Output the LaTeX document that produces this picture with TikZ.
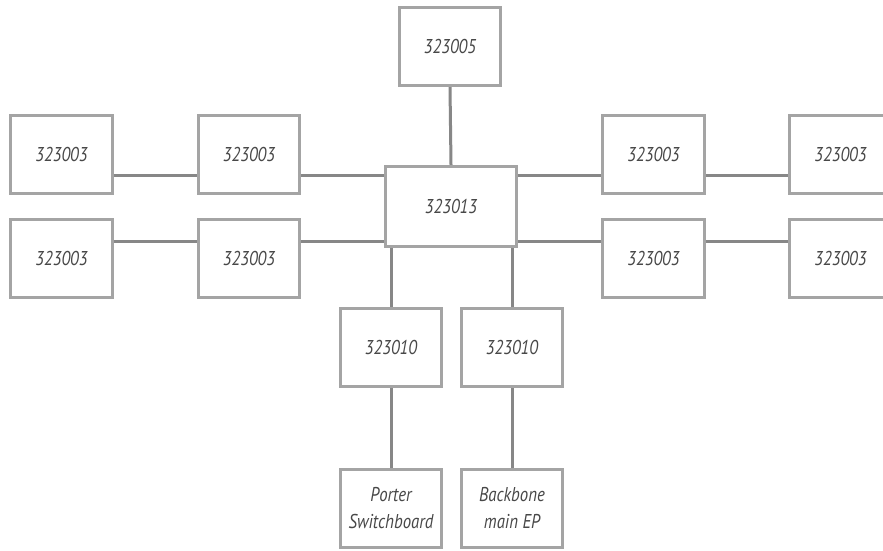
\documentclass[tikz,border=0pt]{standalone}
\usepackage{fontspec}
\setmainfont{PT Sans}[FakeStretch=0.84]
\definecolor{boxgray}{HTML}{A4A4A4}
\definecolor{linegray}{HTML}{878787}
\definecolor{txtgray}{HTML}{484848}
\tikzset{
  unit/.style={draw=boxgray, line width=2.8pt, fill=white, minimum width=101.5pt, minimum height=78.5pt,
    inner sep=0pt, font=\fontsize{20}{27}\selectfont\itshape, text=txtgray, align=center},
  hub/.style={unit, minimum width=131.5pt, minimum height=80.5pt},
  link/.style={draw=linegray, line width=3pt}
}
\begin{document}
\begin{tikzpicture}[x=1pt,y=-1pt]
\useasboundingbox (0,0) rectangle (883,551);
\fill[white] (0,0) rectangle (883,551);
% nodes
\node[unit] (top) at (450,46.5) {323005};
\node[hub]  (hub) at (451,206.5) {323013};
\node[unit] (l1) at (61.5,154.5) {323003};
\node[unit] (l2) at (249,154.5) {323003};
\node[unit] (l3) at (61.5,258.5) {323003};
\node[unit] (l4) at (249,258.5) {323003};
\node[unit] (r1) at (653.5,154.5) {323003};
\node[unit] (r2) at (840.5,154.5) {323003};
\node[unit] (r3) at (653.5,258.5) {323003};
\node[unit] (r4) at (840.5,258.5) {323003};
\node[unit] (d1) at (391,347.5) {323010};
\node[unit] (d2) at (512,347.5) {323010};
\node[unit] (e1) at (391,508.5) {Porter\\Switchboard};
\node[unit] (e2) at (512,508.5) {Backbone\\main EP};
% connectors
\draw[link] (top.south) -- (hub.north);
\draw[link] ([yshift=-20.5pt]l1.east) -- ([yshift=-20.5pt]l2.west);
\draw[link] ([yshift=17.5pt]l3.east) -- ([yshift=17.5pt]l4.west);
\draw[link] ([yshift=-20.5pt]l2.east) -- ([yshift=31.5pt]hub.west);
\draw[link] ([yshift=17.5pt]l4.east) -- ([yshift=-34.5pt]hub.west);
\draw[link] ([yshift=31.5pt]hub.east) -- ([yshift=-20.5pt]r1.west);
\draw[link] ([yshift=-34.5pt]hub.east) -- ([yshift=17.5pt]r3.west);
\draw[link] ([yshift=-20.5pt]r1.east) -- ([yshift=-20.5pt]r2.west);
\draw[link] ([yshift=17.5pt]r3.east) -- ([yshift=17.5pt]r4.west);
\draw[link] (hub.south -| d1.north) -- (d1.north);
\draw[link] (hub.south -| d2.north) -- (d2.north);
\draw[link] (d1.south) -- (e1.north);
\draw[link] (d2.south) -- (e2.north);
\end{tikzpicture}
\end{document}
